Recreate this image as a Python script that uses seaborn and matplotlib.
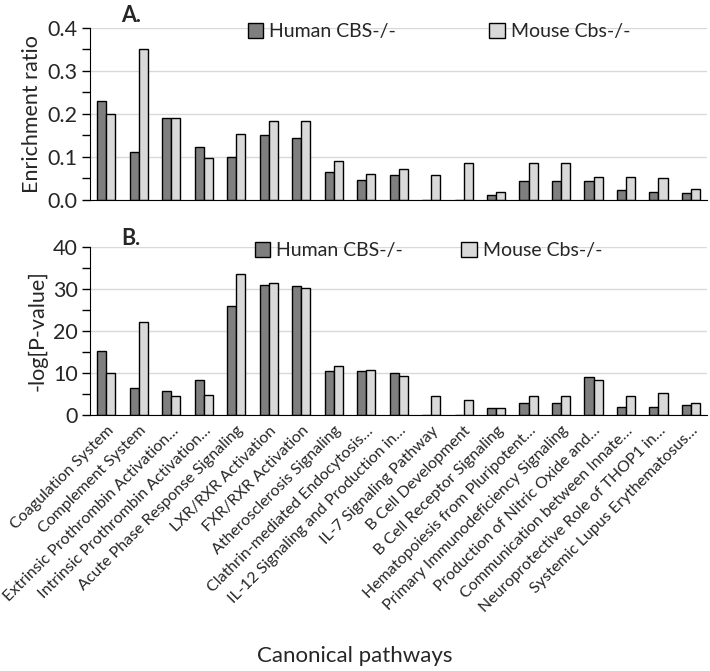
import pandas as pd
import matplotlib.pyplot as plt
import seaborn as sns
from matplotlib.ticker import MultipleLocator

pathways = [
    "Coagulation System", "Complement System",
    "Extrinsic Prothrombin Activation…", "Intrinsic Prothrombin Activation…",
    "Acute Phase Response Signaling", "LXR/RXR Activation", "FXR/RXR Activation",
    "Atherosclerosis Signaling", "Clathrin-mediated Endocytosis…",
    "IL-12 Signaling and Production in…", "IL-7 Signaling Pathway",
    "B Cell Development", "B Cell Receptor Signaling",
    "Hematopoiesis from Pluripotent…", "Primary Immunodeficiency Signaling",
    "Production of Nitric Oxide and…", "Communication between Innate…",
    "Neuroprotective Role of THOP1 in…", "Systemic Lupus Erythematosus…",
]
models = ["Human CBS-/-", "Mouse Cbs-/-"]

# enrichment ratio (panel A)
human_ratio = [0.23, 0.111, 0.19, 0.123, 0.10, 0.151, 0.144, 0.064, 0.047, 0.058,
               0.0, 0.0, 0.011, 0.044, 0.044, 0.044, 0.022, 0.019, 0.015]
mouse_ratio = [0.20, 0.35, 0.19, 0.097, 0.154, 0.183, 0.183, 0.09, 0.061, 0.072,
               0.058, 0.086, 0.018, 0.086, 0.086, 0.054, 0.054, 0.050, 0.026]

# -log p-value (panel B)
human_logp = [15.2, 6.3, 5.6, 8.2, 25.8, 31.0, 30.6, 10.4, 10.4, 10.0,
              0.0, 0.0, 1.5, 2.7, 2.7, 8.9, 1.9, 1.9, 2.3]
mouse_logp = [10.0, 22.1, 4.4, 4.8, 33.5, 31.3, 30.2, 11.5, 10.7, 9.2,
              4.4, 3.4, 1.5, 4.4, 4.4, 8.2, 4.4, 5.2, 2.7]

colors = ["#7f7f7f", "#d9d9d9"]


def long_df(h, m):
    return pd.DataFrame({
        "pathway": pathways * 2,
        "model": [models[0]] * len(pathways) + [models[1]] * len(pathways),
        "value": h + m,
    })


sns.set_style("white")
plt.rcParams['font.family'] = ['Lato', 'DejaVu Sans']

fig = plt.figure(figsize=(7.1, 6.71), dpi=100)
ax1 = fig.add_axes([0.127, 0.702, 0.869, 0.257])
ax2 = fig.add_axes([0.127, 0.382, 0.869, 0.250])

for ax, (h, m) in zip([ax1, ax2], [(human_ratio, mouse_ratio), (human_logp, mouse_logp)]):
    sns.barplot(data=long_df(h, m), x="pathway", y="value", hue="model",
                palette=colors, width=0.56, edgecolor="black", linewidth=1,
                saturation=1, ax=ax)
    ax.set_xlim(-0.5, len(pathways) - 0.5)
    ax.grid(axis="y", color="#d9d9d9", linewidth=1)
    ax.set_axisbelow(True)
    for s in ["top", "right"]:
        ax.spines[s].set_visible(False)
    ax.spines["left"].set_color("black")
    ax.spines["bottom"].set_color("black")
    ax.tick_params(axis="y", which="both", left=True, length=6, width=1,
                   color="black", labelsize=15.5, pad=3)
    ax.tick_params(axis="x", bottom=False)
    ax.set_xlabel("")

ax1.set_ylim(0, 0.4)
ax1.yaxis.set_major_locator(MultipleLocator(0.1))
ax1.yaxis.set_minor_locator(MultipleLocator(0.05))
ax1.yaxis.set_major_formatter(lambda v, p: f"{v:.1f}")
ax1.set_ylabel("Enrichment ratio", fontsize=15.5)
ax1.set_xticklabels([])
ax1.legend(loc="center", bbox_to_anchor=(0.565, 0.975), ncol=2, frameon=False,
           fontsize=14, handlelength=0.8, handleheight=0.8, handletextpad=0.3,
           columnspacing=4.8, borderaxespad=0)
ax1.text(0.05, 1.07, "A.", transform=ax1.transAxes, fontsize=15.5,
         fontweight="bold", va="center")

ax2.set_ylim(0, 40)
ax2.yaxis.set_major_locator(MultipleLocator(10))
ax2.yaxis.set_minor_locator(MultipleLocator(5))
ax2.set_ylabel("-log[P-value]", fontsize=15.5)
ax2.set_xticks(range(len(pathways)))
ax2.set_xticklabels(pathways, rotation=45, ha="right", rotation_mode="anchor",
                    fontsize=11.5)
ax2.tick_params(axis="x", pad=3)
ax2.legend(loc="center", bbox_to_anchor=(0.548, 0.98), ncol=2, frameon=False,
           fontsize=14, handlelength=0.8, handleheight=0.8, handletextpad=0.3,
           columnspacing=3.0, borderaxespad=0)
ax2.text(0.05, 1.05, "B.", transform=ax2.transAxes, fontsize=15.5,
         fontweight="bold", va="center")

fig.text(0.5, 0.023, "Canonical pathways", ha="center", va="center", fontsize=16)

fig.savefig("out.png", dpi=100)
